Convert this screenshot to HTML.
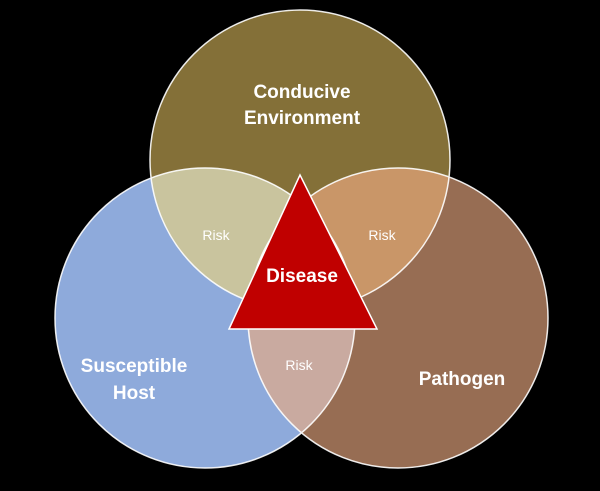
<!DOCTYPE html>
<html><head><style>
html,body{margin:0;padding:0;background:#000;}
svg{display:block;}
text{font-family:"Liberation Sans",sans-serif;fill:#fff;}
</style></head><body>
<svg width="600" height="491" viewBox="0 0 600 491">
<defs>
<clipPath id="cT"><circle cx="300" cy="160" r="150"/></clipPath>
<clipPath id="cL"><circle cx="205" cy="318" r="150"/></clipPath>
<clipPath id="cR"><circle cx="398" cy="318" r="150"/></clipPath>
</defs>
<rect width="600" height="491" fill="#000"/>
<circle cx="300" cy="160" r="150" fill="#847038"/>
<circle cx="205" cy="318" r="150" fill="#8eaadb"/>
<circle cx="398" cy="318" r="150" fill="#976d53"/>
<g clip-path="url(#cT)">
<circle cx="205" cy="318" r="150" fill="#c9c49e"/>
<circle cx="398" cy="318" r="150" fill="#c99668"/>
</g>
<g clip-path="url(#cL)">
<circle cx="398" cy="318" r="150" fill="#c9aaa0"/>
</g>
<g fill="none" stroke="#fff" stroke-width="1.5" opacity="0.9">
<circle cx="300" cy="160" r="150"/>
<circle cx="205" cy="318" r="150"/>
<circle cx="398" cy="318" r="150"/>
</g>
<polygon points="300,175 229,329 377,329" fill="#c00000" stroke="#fff" stroke-width="1.5"/>
<text x="302" y="98" font-size="19" font-weight="bold" text-anchor="middle">Conducive</text>
<text x="302" y="124" font-size="19" font-weight="bold" text-anchor="middle">Environment</text>
<text x="134" y="372" font-size="19" font-weight="bold" text-anchor="middle">Susceptible</text>
<text x="134" y="399" font-size="19" font-weight="bold" text-anchor="middle">Host</text>
<text x="462" y="385" font-size="19" font-weight="bold" text-anchor="middle">Pathogen</text>
<text x="302" y="282" font-size="19" font-weight="bold" text-anchor="middle">Disease</text>
<text x="216" y="240" font-size="14" text-anchor="middle">Risk</text>
<text x="382" y="240" font-size="14" text-anchor="middle">Risk</text>
<text x="299" y="370" font-size="14" text-anchor="middle">Risk</text>
</svg>
</body></html>
